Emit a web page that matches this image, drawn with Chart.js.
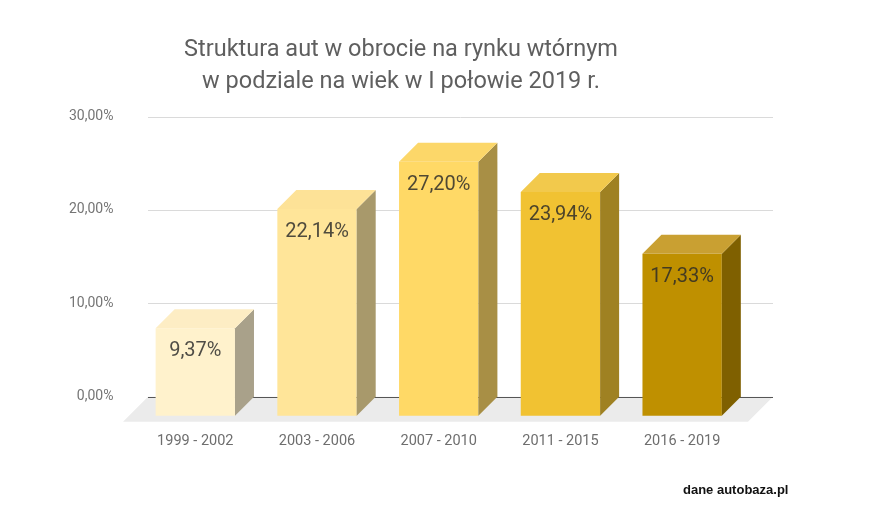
<!DOCTYPE html>
<html lang="pl">
<head>
<meta charset="utf-8">
<title>Struktura aut w obrocie na rynku wtórnym</title>
<script src="https://cdn.jsdelivr.net/npm/chart.js@4/dist/chart.umd.min.js"></script>
<style>
    html, body { margin: 0; padding: 0; background: #ffffff; }
    #chart { display: block; }
</style>
</head>
<body>
<canvas id="chart" width="886" height="532"></canvas>
<script>
// ===========================
// Dane wykresu
// ===========================

const titleLines = ['Struktura aut w obrocie na rynku wtórnym', 'w podziale na wiek w I połowie 2019 r.'];
const categories = ['1999 - 2002', '2003 - 2006', '2007 - 2010', '2011 - 2015', '2016 - 2019'];
const shares = [9.37, 22.14, 27.20, 23.94, 17.33];
const yTicks = [0, 10, 20, 30];
const sourceNote = 'dane autobaza.pl';

// kolory: przód, góra, bok
const frontColors = ['#fff2cc', '#ffe599', '#ffd966', '#f1c232', '#bf9000'];
const topColors = ['#fdedc4', '#fde297', '#fcd769', '#f2c94c', '#c9a032'];
const sideColors = ['#a9a18a', '#a8996b', '#a88f45', '#9f8122', '#7f6000'];

const DEPTH = 19;      // głębokość efektu 3D
const FLOOR = 25;      // głębokość podłogi

/**
 * Formatuje wartość w stylu polskim: 9,37%
 */
function formatPercent(v) {
    return v.toFixed(2).replace('.', ',') + '%';
}

/**
 * Plugin rysujący siatkę, podłogę i ścianki słupków 3D
 */
const bars3d = {
    id: 'bars3d',
    beforeDatasetsDraw(chart) {
        const ctx = chart.ctx;
        const y = chart.scales.y;
        const gx1 = 148, gx2 = 773;
        const y0 = y.getPixelForValue(0);

        // podłoga
        ctx.save();
        ctx.fillStyle = '#ebebeb';
        ctx.beginPath();
        ctx.moveTo(gx1, y0);
        ctx.lineTo(gx2, y0);
        ctx.lineTo(gx2 - FLOOR, y0 + FLOOR);
        ctx.lineTo(gx1 - FLOOR, y0 + FLOOR);
        ctx.closePath();
        ctx.fill();

        // linie siatki
        yTicks.forEach(t => {
            const py = Math.round(y.getPixelForValue(t)) + 0.5;
            ctx.strokeStyle = t === 0 ? '#555555' : '#dadada';
            ctx.lineWidth = 1;
            ctx.beginPath();
            ctx.moveTo(gx1, py);
            ctx.lineTo(gx2, py);
            ctx.stroke();
        });
        ctx.restore();

        // przesunięcie słupków na przednią płaszczyznę
        ctx.save();
        ctx.translate(-DEPTH, DEPTH);
    },
    afterDatasetsDraw(chart) {
        const ctx = chart.ctx;
        const meta = chart.getDatasetMeta(0);

        meta.data.forEach((bar, i) => {
            const left = bar.x - bar.width / 2;
            const right = bar.x + bar.width / 2;

            // ściana boczna
            ctx.fillStyle = sideColors[i];
            ctx.beginPath();
            ctx.moveTo(right, bar.y);
            ctx.lineTo(right + DEPTH, bar.y - DEPTH);
            ctx.lineTo(right + DEPTH, bar.base - DEPTH);
            ctx.lineTo(right, bar.base);
            ctx.closePath();
            ctx.fill();

            // góra
            ctx.fillStyle = topColors[i];
            ctx.beginPath();
            ctx.moveTo(left, bar.y);
            ctx.lineTo(left + DEPTH, bar.y - DEPTH);
            ctx.lineTo(right + DEPTH, bar.y - DEPTH);
            ctx.lineTo(right, bar.y);
            ctx.closePath();
            ctx.fill();

            // etykieta wartości
            ctx.fillStyle = 'rgba(40, 40, 40, 0.82)';
            ctx.font = '20px Roboto';
            ctx.textAlign = 'center';
            ctx.textBaseline = 'middle';
            ctx.fillText(formatPercent(shares[i]), bar.x, bar.y + 23);
        });

        ctx.restore();
    },
    afterDraw(chart) {
        const ctx = chart.ctx;
        ctx.save();

        // tytuł
        ctx.fillStyle = '#5f5f5f';
        ctx.font = '23.5px Roboto';
        ctx.textAlign = 'center';
        ctx.textBaseline = 'alphabetic';
        ctx.fillText(titleLines[0], 401, 56);
        ctx.fillText(titleLines[1], 401, 88);

        // źródło
        ctx.fillStyle = '#111111';
        ctx.font = 'bold 13px "Liberation Sans", Arial';
        ctx.textAlign = 'left';
        ctx.fillText(sourceNote, 683, 494);
        ctx.restore();
    }
};

const ctx = document.getElementById('chart');
new Chart(ctx, {
    type: 'bar',
    data: {
        labels: categories,
        datasets: [{
            data: shares,
            backgroundColor: frontColors,
            borderWidth: 0,
            barPercentage: 0.652,
            categoryPercentage: 1,
            clip: false
        }]
    },
    options: {
        responsive: false,
        animation: false,
        events: [],
        layout: {
            padding: { top: 116.5, right: 124, bottom: 0, left: 0 }
        },
        plugins: {
            legend: { display: false },
            title: { display: false },
            tooltip: { enabled: false }
        },
        scales: {
            y: {
                min: 0,
                max: 30,
                afterFit: scale => { scale.width = 153.45; },
                afterBuildTicks: scale => {
                    scale.ticks = yTicks.map(v => ({ value: v }));
                },
                grid: { display: false, drawTicks: false },
                border: { display: false },
                ticks: {
                    padding: 40,
                    color: '#757575',
                    font: { family: 'Roboto', size: 14 },
                    callback: v => formatPercent(v)
                }
            },
            x: {
                afterFit: scale => { scale.height = 135.3; },
                grid: { display: false, drawTicks: false },
                border: { display: false },
                ticks: {
                    padding: 36,
                    labelOffset: -DEPTH,
                    maxRotation: 0,
                    color: '#6e6e6e',
                    font: { family: 'Roboto', size: 14.5 }
                }
            }
        }
    },
    plugins: [bars3d]
});
</script>
</body>
</html>
